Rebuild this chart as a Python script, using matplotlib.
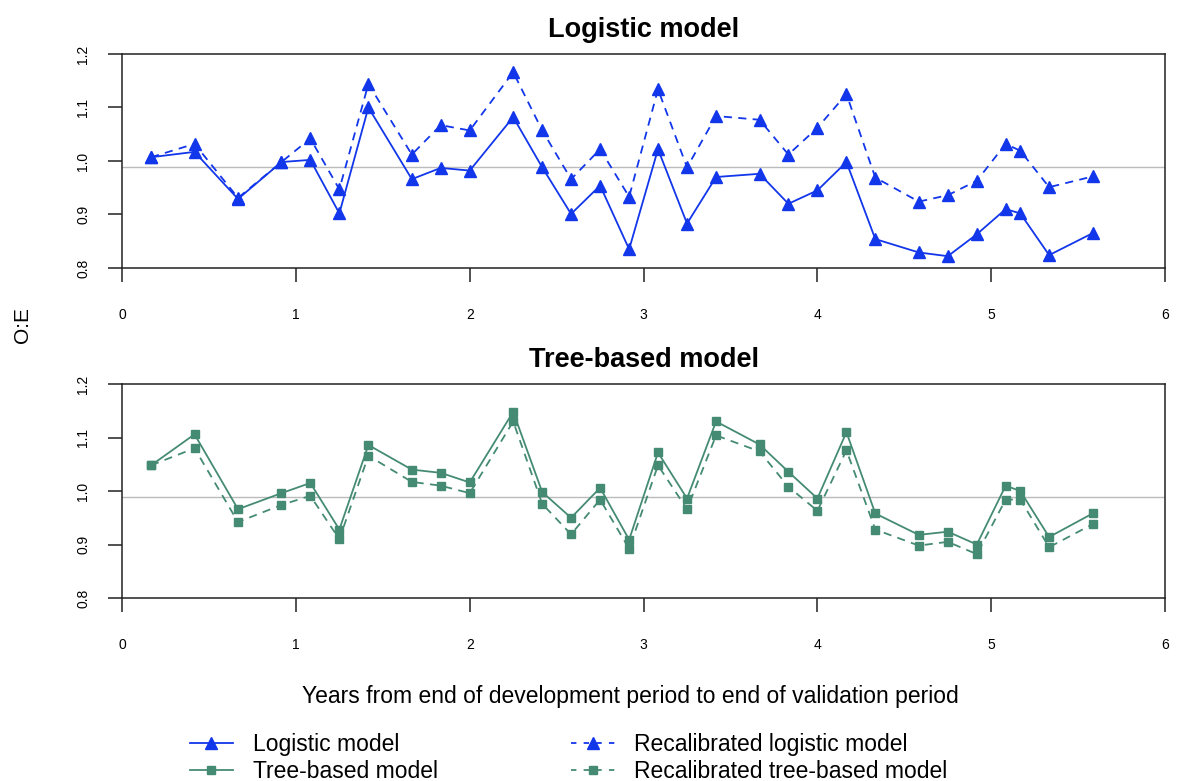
import numpy as np
import matplotlib
matplotlib.use('Agg')
import matplotlib.pyplot as plt
from matplotlib.lines import Line2D

plt.rcParams['font.family'] = ['Liberation Sans', 'DejaVu Sans']

# years from end of development period to end of validation period
years = [0.167, 0.417, 0.667, 0.917, 1.083, 1.25, 1.417, 1.667, 1.833, 2.0,
         2.25, 2.417, 2.583, 2.75, 2.917, 3.083, 3.25, 3.417, 3.667, 3.833,
         4.0, 4.167, 4.333, 4.583, 4.75, 4.917, 5.083, 5.167, 5.333, 5.583]

logistic = [1.007, 1.017, 0.929, 0.998, 1.002, 0.902, 1.100, 0.966, 0.987, 0.982,
            1.082, 0.988, 0.901, 0.954, 0.835, 1.022, 0.883, 0.970, 0.976, 0.920,
            0.945, 0.998, 0.854, 0.829, 0.822, 0.863, 0.910, 0.902, 0.824, 0.865]
logistic_recal = [1.007, 1.032, 0.931, 0.998, 1.042, 0.947, 1.144, 1.012, 1.067, 1.057,
                  1.166, 1.057, 0.966, 1.022, 0.933, 1.134, 0.988, 1.084, 1.077, 1.012,
                  1.062, 1.125, 0.969, 0.924, 0.936, 0.963, 1.032, 1.019, 0.951, 0.971]

tree = [1.048, 1.106, 0.966, 0.996, 1.015, 0.928, 1.086, 1.040, 1.034, 1.016,
        1.148, 0.998, 0.950, 1.006, 0.909, 1.072, 0.986, 1.130, 1.087, 1.036,
        0.986, 1.110, 0.958, 0.918, 0.924, 0.900, 1.010, 1.000, 0.914, 0.958]
tree_recal = [1.048, 1.080, 0.942, 0.974, 0.991, 0.910, 1.066, 1.017, 1.010, 0.996,
              1.130, 0.976, 0.919, 0.984, 0.892, 1.048, 0.966, 1.104, 1.074, 1.008,
              0.963, 1.076, 0.928, 0.898, 0.905, 0.882, 0.984, 0.984, 0.895, 0.938]

ref_line = 0.988
x_ticks = [0, 1, 2, 3, 4, 5, 6]
y_ticks = [0.8, 0.9, 1.0, 1.1, 1.2]

BLUE = '#1236ea'
GREEN = '#458b74'

fig = plt.figure(figsize=(11.85, 7.81), dpi=100)
ax1 = fig.add_axes([0.1030, 0.6569, 0.8802, 0.2740])
ax2 = fig.add_axes([0.1030, 0.2343, 0.8802, 0.2740])


def style_panel(ax, title):
    ax.set_xlim(0, 6)
    ax.set_ylim(0.8, 1.2)
    ax.axhline(ref_line, color='#bbbbbb', lw=1, zorder=1)
    ax.set_xticks(x_ticks)
    ax.set_xticklabels([str(t) for t in x_ticks])
    ax.set_yticks(y_ticks)
    ax.set_yticklabels(['%.1f' % t for t in y_ticks], rotation=90, va='center')
    ax.tick_params(axis='both', length=10, width=1.1, labelsize=10, color='#222222')
    ax.tick_params(axis='x', pad=19)
    ax.tick_params(axis='y', pad=13)
    for s in ax.spines.values():
        s.set_linewidth(1.1)
        s.set_color('#222222')
    ax.set_title(title, fontsize=19.5, fontweight='bold', pad=12)


style_panel(ax1, 'Logistic model')
ax1.plot(years, logistic, '-', color=BLUE, lw=1.3, marker='^', ms=8.5, zorder=3)
ax1.plot(years, logistic_recal, '--', color=BLUE, lw=1.3, marker='^', ms=8.5,
         dashes=(4.5, 3.5), zorder=3)

style_panel(ax2, 'Tree-based model')
ax2.plot(years, tree, '-', color=GREEN, lw=1.3, marker='s', ms=6, zorder=3)
ax2.plot(years, tree_recal, '--', color=GREEN, lw=1.3, marker='s', ms=6,
         dashes=(4.5, 3.5), zorder=3)

fig.text(0.019, 0.584, 'O:E', rotation=90, fontsize=15, va='center', ha='center')
fig.text(0.532, 0.108, 'Years from end of development period to end of validation period',
         fontsize=16.5, ha='center', va='center')

handles = [
    Line2D([], [], color=BLUE, lw=1.3, marker='^', ms=8.5),
    Line2D([], [], color=GREEN, lw=1.3, marker='s', ms=6),
    Line2D([], [], color=BLUE, lw=1.3, ls='--', dashes=(3, 4), marker='^', ms=8.5),
    Line2D([], [], color=GREEN, lw=1.3, ls='--', dashes=(3, 4), marker='s', ms=6),
]
labels = ['Logistic model', 'Tree-based model',
          'Recalibrated logistic model', 'Recalibrated tree-based model']
fig.legend(handles, labels, loc='upper left', bbox_to_anchor=(0.160, 0.062), ncol=2,
           frameon=False, fontsize=16.5, handlelength=1.9, handletextpad=0.87,
           columnspacing=5.8, labelspacing=0.2, borderpad=0, borderaxespad=0)

fig.savefig('out.png', dpi=100)
